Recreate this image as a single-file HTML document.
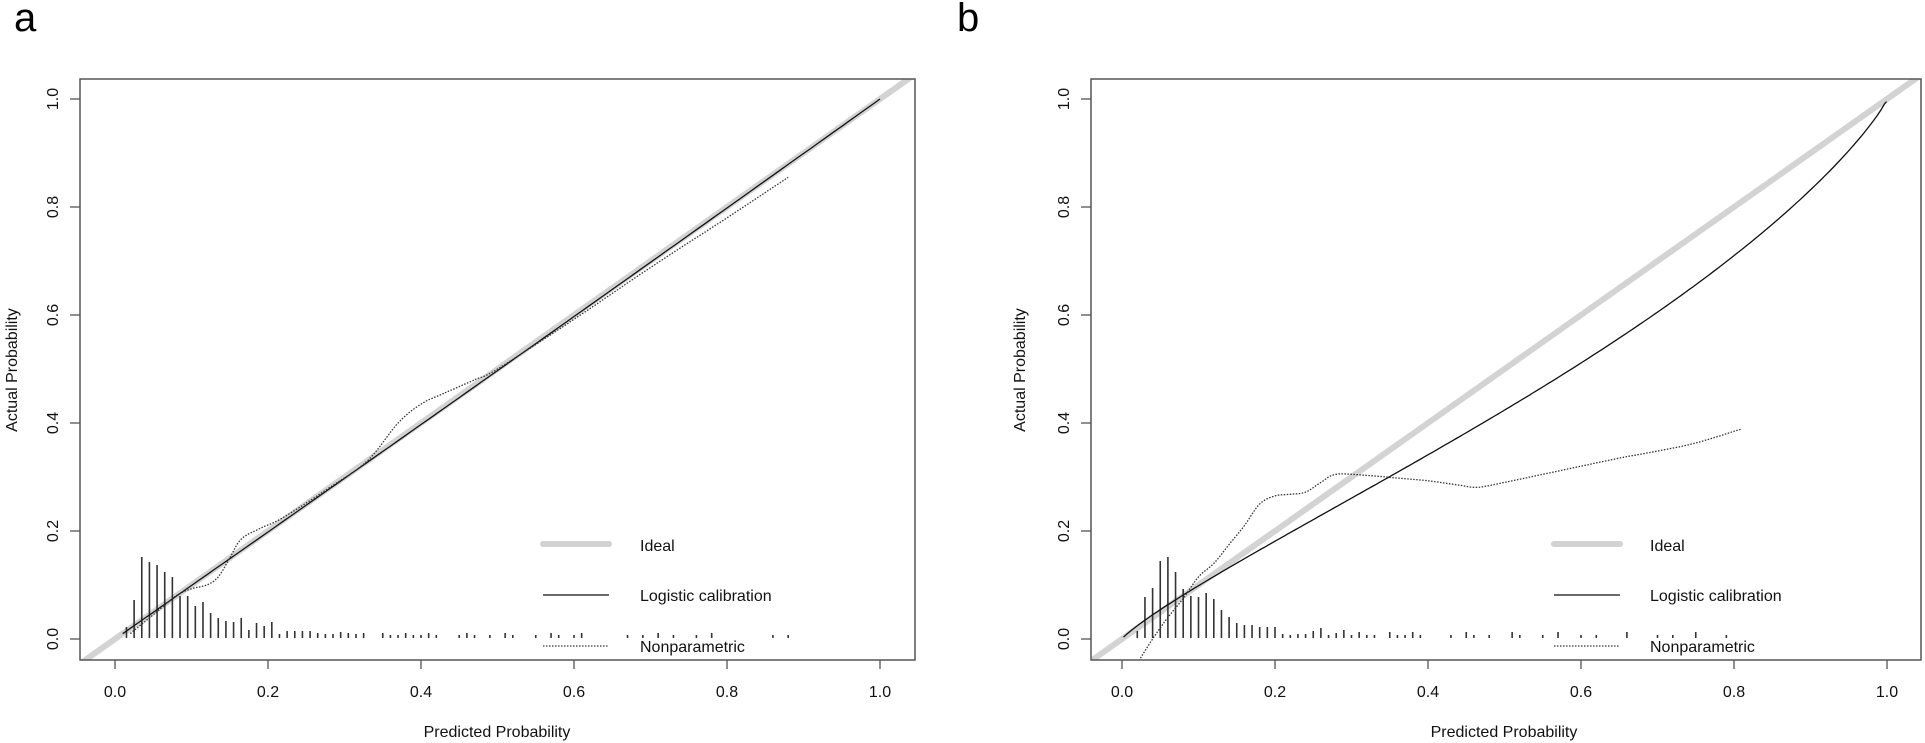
<!DOCTYPE html>
<html><head><meta charset="utf-8"><style>
html,body{margin:0;padding:0;background:#fff;}
svg{display:block;font-family:"Liberation Sans",Arial,sans-serif;}
</style></head><body>
<svg id="s" width="1925" height="743" viewBox="0 0 1925 743" xmlns="http://www.w3.org/2000/svg">
<defs>
<clipPath id="ca"><rect x="80" y="79" width="835" height="581"/></clipPath>
<clipPath id="cb"><rect x="1091" y="79" width="830" height="581"/></clipPath>
</defs>
<text x="14" y="31" font-size="40">a</text>
<text x="957" y="31" font-size="40">b</text>
<g id="ga"></g>
<g id="gb"></g>
<g font-size="16" fill="#111">
<text x="497" y="737" text-anchor="middle">Predicted Probability</text>
<text transform="translate(17,370) rotate(-90)" text-anchor="middle">Actual Probability</text>
<text x="1504" y="737" text-anchor="middle">Predicted Probability</text>
<text transform="translate(1025,370) rotate(-90)" text-anchor="middle">Actual Probability</text>
<text x="640" y="551">Ideal</text>
<text x="640" y="601">Logistic calibration</text>
<text x="640" y="652">Nonparametric</text>
<text x="1650" y="551">Ideal</text>
<text x="1650" y="601">Logistic calibration</text>
<text x="1650" y="652">Nonparametric</text>
</g>
<g id="ticks" font-size="16" fill="#111"></g>
</svg>
<script>
const NS="http://www.w3.org/2000/svg";
function el(p,t,a,txt){const e=document.createElementNS(NS,t);for(const k in a)e.setAttribute(k,a[k]);if(txt!==undefined)e.textContent=txt;p.appendChild(e);return e;}
function panel(g,x0,bl,br,clip,hist,logi,np,legX){
  const X=v=>x0+v*765, Y=v=>639-v*540;
  const G=document.getElementById(g);
  el(G,"line",{x1:X(-0.1),y1:Y(-0.1),x2:X(1.1),y2:Y(1.1),stroke:"#d3d3d3","stroke-width":6,"clip-path":"url(#"+clip+")"});
  hist.forEach(h=>el(G,"line",{x1:X(h[0]),y1:638,x2:X(h[0]),y2:638-h[1],stroke:"#333","stroke-width":1.6}));
  let d="";logi.forEach((p,i)=>d+=(i?"L":"M")+X(p[0]).toFixed(1)+","+Y(p[1]).toFixed(1));
  el(G,"path",{d:d,fill:"none",stroke:"#111","stroke-width":1.3,"clip-path":"url(#"+clip+")"});
  d="";np.forEach((p,i)=>d+=(i?"L":"M")+X(p[0]).toFixed(1)+","+Y(p[1]).toFixed(1));
  el(G,"path",{d:d,fill:"none",stroke:"#333","stroke-width":1.3,"stroke-dasharray":"1.5,1.5","stroke-linejoin":"round","clip-path":"url(#"+clip+")"});
  el(G,"rect",{x:bl,y:79,width:br-bl,height:581,fill:"none",stroke:"#555","stroke-width":1.5});
  const T=document.getElementById("ticks");
  for(let i=0;i<=5;i++){const v=i/5,lab=v.toFixed(1);
    el(G,"line",{x1:X(v),y1:660,x2:X(v),y2:669,stroke:"#555","stroke-width":1.3});
    el(T,"text",{x:X(v),y:697,"text-anchor":"middle"},lab);
    el(G,"line",{x1:bl,y1:Y(v),x2:bl-10,y2:Y(v),stroke:"#555","stroke-width":1.3});
    el(T,"text",{transform:"translate("+(bl-22)+","+Y(v)+") rotate(-90)","text-anchor":"middle"},lab);
  }
  el(G,"line",{x1:legX,y1:544,x2:legX+66,y2:544,stroke:"#d3d3d3","stroke-width":6,"stroke-linecap":"round"});
  el(G,"line",{x1:legX,y1:595,x2:legX+66,y2:595,stroke:"#111","stroke-width":1.3});
  el(G,"line",{x1:legX,y1:646,x2:legX+66,y2:646,stroke:"#333","stroke-width":1.3,"stroke-dasharray":"1.5,1.5"});
}
function smooth(pts){ // catmull-rom sampling
  const out=[];for(let i=0;i<pts.length-1;i++){const p0=pts[Math.max(0,i-1)],p1=pts[i],p2=pts[i+1],p3=pts[Math.min(pts.length-1,i+2)];
    for(let t=0;t<1;t+=0.1){const t2=t*t,t3=t2*t;
      const f=(a,b,c,d)=>0.5*((2*b)+(-a+c)*t+(2*a-5*b+4*c-d)*t2+(-a+3*b-3*c+d)*t3);
      out.push([f(p0[0],p1[0],p2[0],p3[0]),f(p0[1],p1[1],p2[1],p3[1])]);}}
  out.push(pts[pts.length-1]);return out;}
const ha=[[0.015,11],[0.025,38],[0.035,81],[0.045,76],[0.055,73],[0.065,66],[0.075,61],[0.085,42],[0.095,42],[0.105,32],[0.115,36],[0.125,25],[0.135,20],[0.145,17],[0.155,16],[0.165,20],[0.175,8],[0.185,15],[0.195,12],[0.205,16],[0.215,4],[0.225,7],[0.235,7],[0.245,7],[0.255,7],[0.265,5],[0.275,4],[0.285,4],[0.295,6],[0.305,5],[0.315,4],[0.325,5]];
[0.35,0.36,0.37,0.38,0.39,0.4,0.41,0.42,0.45,0.46,0.47,0.49,0.51,0.52,0.55,0.57,0.58,0.6,0.61,0.67,0.69,0.71,0.73,0.76,0.78,0.86,0.88].forEach((x,i)=>ha.push([x,i%3==0?5:3]));
const la=[];for(let x=0.01;x<=1.0001;x+=0.01)la.push([x,x-0.003*Math.sin(Math.PI*x)]);
const npa=smooth([[0.02,0.01],[0.05,0.045],[0.08,0.08],[0.1,0.093],[0.12,0.1],[0.135,0.115],[0.15,0.15],[0.165,0.185],[0.19,0.205],[0.22,0.225],[0.28,0.28],[0.33,0.33],[0.37,0.4],[0.4,0.435],[0.43,0.455],[0.47,0.48],[0.5,0.5],[0.6,0.592],[0.7,0.688],[0.8,0.78],[0.88,0.855]]);
panel("ga",115,80,915,"ca",ha,la,npa,543);
const hb=[[0.02,7],[0.03,41],[0.04,50],[0.05,77],[0.06,81],[0.07,66],[0.08,49],[0.09,42],[0.1,41],[0.11,45],[0.12,39],[0.13,28],[0.14,21],[0.15,15],[0.16,13],[0.17,13],[0.18,11],[0.19,11],[0.2,11],[0.21,4],[0.22,3],[0.23,4],[0.24,4],[0.25,7],[0.26,10],[0.27,3],[0.28,5],[0.29,8]];
[0.3,0.31,0.32,0.33,0.35,0.36,0.37,0.38,0.39,0.43,0.45,0.46,0.48,0.51,0.52,0.55,0.57,0.6,0.62,0.66,0.7,0.72,0.75,0.79].forEach((x,i)=>hb.push([x,i%3==1?6:3]));
const lb=[];const a=-0.307,b=0.867;
for(let x=0.002;x<=0.9995;x+=0.005){const lx=Math.log(x/(1-x));lb.push([x,1/(1+Math.exp(-(a+b*lx)))]);}
lb.push([0.9995,0.995]);
const npb=smooth([[0.02,-0.045],[0.04,0.0],[0.06,0.04],[0.08,0.075],[0.1,0.115],[0.12,0.14],[0.14,0.175],[0.16,0.21],[0.18,0.25],[0.2,0.265],[0.22,0.268],[0.24,0.272],[0.26,0.29],[0.28,0.305],[0.32,0.303],[0.36,0.298],[0.4,0.293],[0.44,0.285],[0.465,0.281],[0.5,0.29],[0.55,0.305],[0.6,0.32],[0.65,0.335],[0.7,0.348],[0.75,0.363],[0.81,0.389]]);
panel("gb",1122,1091,1921,"cb",hb,lb,npb,1554);
</script>
</body></html>
